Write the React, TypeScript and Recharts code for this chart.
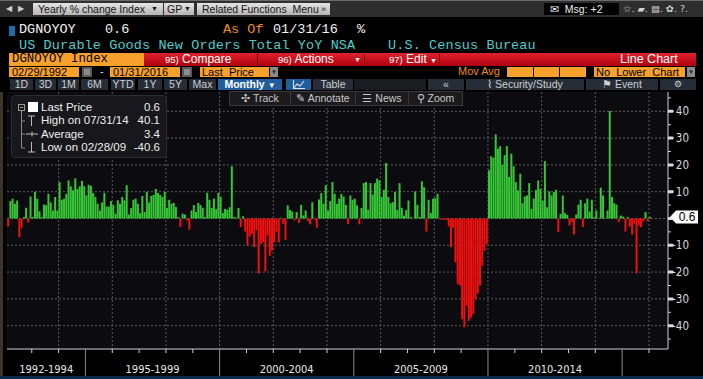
import React from "react";
import { BarChart, Bar, XAxis, YAxis, CartesianGrid, Cell } from "recharts";

// DGNOYOY monthly yoy %, Feb 1992 .. Jan 2016
const y1992 = [-3, 6.5, 7.4, 5.5, 6.7, -7, -3.5, 0.5, 4, -1.5, 8.2];
const y1993 = [0.5, 10, 7.4, 2.7, 0.5, 5.2, 5, 9.2, 6, 3, 8, 3];
const y1994 = [13.6, 7, 7.4, 9.2, 14.2, 12, 10.5, 15, 11, 12, 14, 12];
const y1995 = [8.6, 12.6, 12.2, 9.5, 8, 5.5, 3, 6, 9.6, 4.5, 4.5, 6.5];
const y1996 = [5, 1.8, 6.8, 5.5, 8, 6.8, 12.4, 1.5, 3.9, 7, 7.4, 5.5];
const y1997 = [2, 8.4, 2.4, 10, 6, 8.4, 8.8, 11, 9.5, 8.8, 8, 10];
const y1998 = [4, 7, 5.5, 5.8, 4.3, 0.5, -3.2, 1.8, 1.5, -0.8, -4.2, 3];
const y1999 = [5, 2.4, 5.8, 5, 4, 0.5, 9.6, 7, 4, 7.4, 3.5, 9.6];
const y2000 = [8, 2, 3.6, 3.2, 4.2, 19.5, 0.5, 0.3, 3.9, -3.2, 0.8, -4.9];
const y2001 = [-10, -6.7, -5.7, -10.7, -4.5, -20.5, -9.5, -8.9, -19.7, -6.4, -13.9, -12];
const y2002 = [-8.9, -5, -8.9, 0.2, -2, -8, 4.9, 3.2, 2.6, -0.7, 2.4, -1.7];
const y2003 = [5.1, 1.1, 3, -1, -2.2, 6.1, -0.5, -3.5, 7.1, 9.5, 5.5, 12.4];
const y2004 = [3, 6.5, 13.6, 9.2, 5.5, 7.4, 9.2, 8.2, 5.1, -2, 8.6, 7];
const y2005 = [7.4, 4.9, -2.2, 3.9, 13.2, 13.6, 3.2, 13.2, 8.9, 13.2, 14.9, 14.2];
const y2006 = [8, 10.7, 20.7, 8, 5.7, 6.1, 9.9, 3.2, 13.2, 4, 1.1, 3.2];
const y2007 = [6.7, 0.5, -0.2, 10.1, 5.1, 0.5, 13.9, 11.7, -4.9, 7, 2, 7.4];
const y2008 = [7.6, 9.2, -0.3, -0.5, -0.4, -0.6, -3, -10.7, -3.6, -16.4, -24.5, -25];
const y2009 = [-37.6, -40.6, -32.6, -38.2, -37, -35.7, -30.1, -28, -25, -17.6, -12, -9.5];
const y2010 = [18, 23.2, 22.7, 31.4, 26.1, 27, 20.1, 23.6, 27, 15.5, 24.2, 19.5];
const y2011 = [13.6, 10.5, 16.7, 5.7, 8.2, 8.6, 13.2, 3.6, 7.4, 10.7, 14.2, 11.1];
const y2012 = [6.7, 21.4, 4.2, 10.1, 8.6, 9.9, 10.7, -5.1, 1.7, 8.6, 2, 1.4];
const y2013 = [-2.6, -1.4, -6, 1.5, 5.2, 7, -3.2, 5.7, 7.4, 2.6, 7, 0.5];
const y2014 = [3, 0.2, 11.5, 8.6, 0.2, 3, 40.1, 8, 5.7, 5.2, -1.4, 1.1];
const y2015 = [0.7, -4.9, 0.5, -3, -6, -2, -20.5, -2.6, -3.2, -1, 2.4, -1];
const y2016 = [0.6];

const yearSeries = [
  y1992, y1993, y1994, y1995, y1996, y1997, y1998, y1999, y2000, y2001, y2002, y2003,
  y2004, y2005, y2006, y2007, y2008, y2009, y2010, y2011, y2012, y2013, y2014, y2015, y2016,
];

const periodLabels = ["1992-1994", "1995-1999", "2000-2004", "2005-2009", "2010-2014"];
const periodStarts = [1992, 1995, 2000, 2005, 2010, 2015];
const yMajorTicks = [40, 30, 20, 10, 0, -10, -20, -30, -40];
const yMinorTicks = [45, 35, 25, 15, 5, -5, -15, -25, -35, -45];

const legendRows = [
  { label: "Last Price", value: "0.6" },
  { label: "High on 07/31/14", value: "40.1" },
  { label: "Average", value: "3.4" },
  { label: "Low on 02/28/09", value: "-40.6" },
];
const rangeButtons = ["1D", "3D", "1M", "6M", "YTD", "1Y", "5Y", "Max"];

const GREEN = "#36c636";
const RED = "#f01010";
const ORANGE = "#f7a12c";
const MONO = '"Liberation Mono", "DejaVu Sans Mono", monospace';
const SANS = '"Liberation Sans", Arial, sans-serif';
const NARROW = '"DejaVu Sans Condensed", "Liberation Sans Narrow", "Liberation Sans", sans-serif';

// month index, 0 = Feb 1992
const monthIdx = (year: number, month: number) => (year - 1992) * 12 + (month - 2);

const data: { idx: number; value: number }[] = [];
yearSeries.forEach((arr) => arr.forEach((v) => data.push({ idx: data.length, value: v })));
const lastValue = data[data.length - 1].value;

const X_MIN = -0.58;
const X_MAX = 295;
const Y_MIN = -48.7;
const Y_MAX = 47.2;

const yearStarts: number[] = [];
for (let y = 1993; y <= 2016; y++) yearStarts.push(monthIdx(y, 1) - 0.5);
const gridIdx = yearStarts.filter((_, i) => (1993 + i) % 2 === 0);
const sepSet = new Set(periodStarts.slice(1).map((y) => monthIdx(y, 1) - 0.5));
const labelAt = new Map<number, string>();
periodLabels.forEach((lbl, k) => {
  const from = Math.max(X_MIN, monthIdx(periodStarts[k], 1) - 0.5);
  const to = monthIdx(periodStarts[k + 1], 1) - 0.5;
  labelAt.set((from + to) / 2, lbl);
});
const xTicks = [...yearStarts, ...Array.from(labelAt.keys())];
const yTicks = [...yMinorTicks, ...yMajorTicks, lastValue];

function XTick(props: any) {
  const { x, y, payload } = props;
  const v = payload.value;
  const lbl = labelAt.get(v);
  if (lbl)
    return (
      <text x={x} y={y + 24} textAnchor="middle" fill="#e8e8e8" fontSize={11} fontFamily={NARROW}>
        {lbl}
      </text>
    );
  const sep = sepSet.has(v);
  return <line x1={x} x2={x} y1={y} y2={y + (sep ? 27 : 4)} stroke={sep ? "#8c8c8c" : "#cfcfcf"} />;
}

function YTick(props: any) {
  const { x, y, payload } = props;
  const v = payload.value;
  if (v === lastValue && !yMajorTicks.includes(v)) {
    return (
      <g>
        <path d={`M${x + 2},${y} L${x + 8},${y - 6.5} L${x + 30},${y - 6.5} L${x + 30},${y + 6.5} L${x + 8},${y + 6.5} Z`} fill="#fff" />
        <text x={x + 19} y={y + 4} textAnchor="middle" fill="#000" fontSize={12} fontFamily={SANS}>
          {v}
        </text>
      </g>
    );
  }
  if (yMinorTicks.includes(v)) return <line x1={x} x2={x + 3} y1={y} y2={y} stroke="#cfcfcf" />;
  return (
    <g>
      <path d={`M${x},${y - 1.5} L${x + 5},${y - 1.5} L${x + 6},${y} L${x + 5},${y + 1.5} L${x},${y + 1.5} Z`} fill="#d8d8d8" />
      {v !== 0 && (
        <text x={x + 21} y={y + 4} textAnchor="end" fill="#dcdcdc" fontSize={11.5} fontFamily={NARROW}>
          {v}
        </text>
      )}
    </g>
  );
}

const Abs = ({ x, y, w, h, style, children }: any) => (
  <div style={{ position: "absolute", left: x, top: y, width: w, height: h, boxSizing: "border-box", whiteSpace: "nowrap", ...style }}>
    {children}
  </div>
);

const grayDrop = { background: "linear-gradient(#e4e4e4, #b4b4b4)", color: "#151515", fontSize: 10.5, lineHeight: "12px", paddingLeft: 5 };
const btn = { background: "#262d37", color: "#cdcdcd", fontSize: 10.5, lineHeight: "11px", textAlign: "center" as const };
const tool = { background: "#1b1b1e", border: "1px solid #3a3a3e", color: "#c8c8c8", fontSize: 10.5, lineHeight: "13px", textAlign: "center" as const };
const head = { fontFamily: MONO, fontSize: 13.5, color: "#f2f2f2", lineHeight: "14px" };

export default function App() {
  const rangeX = [10, 35, 58, 81, 111, 138, 164, 189];
  const rangeW = [23, 21, 21, 27, 24, 24, 23, 27];
  return (
    <div style={{ position: "relative", width: 703, height: 379, background: "#000", overflow: "hidden", fontFamily: SANS }}>
      <style>{"body{margin:0;background:#000}"}</style>
      <div style={{ position: "absolute", left: 0, top: 0 }}>
        <BarChart width={703} height={379} data={data} margin={{ top: 92, right: 0, bottom: 0, left: 7 }}>
          <CartesianGrid fill="#0b0b10" stroke="#5e5e5e" strokeDasharray="2 2" horizontalValues={yMajorTicks} verticalValues={gridIdx} />
          <XAxis
            type="number"
            dataKey="idx"
            domain={[X_MIN, X_MAX]}
            allowDataOverflow
            ticks={xTicks}
            interval={0}
            height={30}
            tickSize={0}
            tickMargin={0}
            tickLine={false}
            axisLine={{ stroke: "#d0d0d0" }}
            tick={(p: any) => <XTick {...p} />}
          />
          <YAxis
            orientation="right"
            type="number"
            domain={[Y_MIN, Y_MAX]}
            allowDataOverflow
            ticks={yTicks}
            interval={0}
            width={35}
            tickSize={0}
            tickMargin={0}
            tickLine={false}
            axisLine={{ stroke: "#d0d0d0" }}
            tick={(p: any) => <YTick {...p} />}
          />
          <Bar dataKey="value" barSize={2} isAnimationActive={false}>
            {data.map((d) => (
              <Cell key={d.idx} fill={d.value >= 0 ? GREEN : RED} />
            ))}
          </Bar>
        </BarChart>
      </div>

      {/* left frame + bottom strip */}
      <Abs x={0} y={92} w={3} h={285} style={{ background: "#3b3427" }} />
      <Abs x={0} y={376} w={703} h={3} style={{ background: "#0d2a4a" }} />

      {/* row 1 */}
      <Abs x={0} y={0} w={703} h={17} style={{ background: "#2e2e2e", borderTop: "1px solid #6a6a6a" }} />
      <Abs x={6} y={3} w={24} h={12} style={{ color: "#cfcfcf", fontSize: 8, lineHeight: "12px", letterSpacing: 6 }}>◀▶</Abs>
      <Abs x={33} y={3} w={130} h={12} style={grayDrop}>
        Yearly % change Index<span style={{ position: "absolute", right: 5, fontSize: 7 }}>▼</span>
      </Abs>
      <Abs x={164} y={3} w={30} h={12} style={{ ...grayDrop, paddingLeft: 3 }}>
        GP<span style={{ position: "absolute", right: 3, fontSize: 7 }}>▼</span>
      </Abs>
      <Abs x={197} y={3} w={133} h={12} style={grayDrop}>
        Related Functions&nbsp; Menu<span style={{ position: "absolute", right: 4, fontSize: 9 }}>»</span>
      </Abs>
      <Abs x={544} y={3} w={75} h={12} style={{ background: "#000", color: "#eee", fontSize: 10.5, lineHeight: "12px", paddingLeft: 6 }}>
        ✉&nbsp; Msg: +2
      </Abs>
      <Abs x={623} y={3} w={80} h={12} style={{ color: "#d0d0d0", fontSize: 9.5, lineHeight: "12px", fontFamily: '"DejaVu Sans", sans-serif' }}>
        ☆. ▰. ▤. ✿. ?.
      </Abs>

      {/* row 2-3 */}
      <Abs x={9} y={26} w={6} h={10} style={{ background: "#1d6ea6" }} />
      <Abs x={19} y={23} w={80} h={14} style={head}>DGNOYOY</Abs>
      <Abs x={105} y={23} w={40} h={14} style={head}>0.6</Abs>
      <Abs x={223} y={23} w={48} h={14} style={{ ...head, color: "#f08a1e" }}>As Of</Abs>
      <Abs x={273} y={23} w={76} h={14} style={head}>01/31/16</Abs>
      <Abs x={357} y={23} w={12} h={14} style={head}>%</Abs>
      <Abs x={19} y={38.5} w={530} h={14} style={{ fontFamily: MONO, fontSize: 13.5, color: "#48cfcf", lineHeight: "14px", whiteSpace: "pre", letterSpacing: 0.1 }}>
        {"US Durable Goods New Orders Total YoY NSA    U.S. Census Bureau"}
      </Abs>

      {/* row 4 */}
      <Abs x={9} y={52.5} w={135} h={13} style={{ background: ORANGE, color: "#000", fontFamily: MONO, fontSize: 12.3, lineHeight: "13px", paddingLeft: 3 }}>
        DGNOYOY Index
      </Abs>
      <Abs x={144} y={52.5} w={552} h={13} style={{ background: "linear-gradient(#e0222c, #b0000e)" }} />
      <Abs x={257} y={53.5} w={1} h={11} style={{ background: "#7a0008" }} />
      <Abs x={364} y={53.5} w={1} h={11} style={{ background: "#7a0008" }} />
      <Abs x={439} y={53.5} w={1} h={11} style={{ background: "#7a0008" }} />
      <Abs x={165} y={52.5} w={90} h={13} style={{ color: "#fff", fontSize: 12, lineHeight: "13px" }}>
        <span style={{ fontSize: 9.5 }}>95)</span> Compare
      </Abs>
      <Abs x={278} y={52.5} w={85} h={13} style={{ color: "#fff", fontSize: 12, lineHeight: "13px" }}>
        <span style={{ fontSize: 9.5 }}>96)</span> Actions<span style={{ position: "absolute", left: 76, fontSize: 7 }}>▼</span>
      </Abs>
      <Abs x={389} y={52.5} w={50} h={13} style={{ color: "#fff", fontSize: 12, lineHeight: "13px" }}>
        <span style={{ fontSize: 9.5 }}>97)</span> Edit <span style={{ fontSize: 7 }}>▼</span>
      </Abs>
      <Abs x={620} y={52.5} w={70} h={13} style={{ color: "#fff", fontSize: 12.5, lineHeight: "13px" }}>Line Chart</Abs>

      {/* row 5 */}
      <Abs x={9} y={67} w={70} h={10} style={{ background: ORANGE, color: "#000", fontSize: 11, lineHeight: "10px", paddingLeft: 3 }}>02/29/1992</Abs>
      <Abs x={82} y={67} w={10} h={10} style={{ background: "#8a8a8a", border: "2px solid #5a5a5a" }} />
      <Abs x={100} y={66} w={8} h={10} style={{ color: "#ddd", fontSize: 11, lineHeight: "10px" }}>-</Abs>
      <Abs x={110} y={67} w={70} h={10} style={{ background: ORANGE, color: "#000", fontSize: 11, lineHeight: "10px", paddingLeft: 3 }}>01/31/2016</Abs>
      <Abs x={182} y={67} w={10} h={10} style={{ background: "#8a8a8a", border: "2px solid #5a5a5a" }} />
      <Abs x={200} y={67} w={69} h={10} style={{ background: ORANGE, color: "#000", fontSize: 11, lineHeight: "10px", paddingLeft: 2 }}>Last&nbsp; Price</Abs>
      <Abs x={270} y={67} w={8} h={10} style={{ background: "#8a8a8a", color: "#222", fontSize: 6, lineHeight: "10px", textAlign: "center" }}>▼</Abs>
      <Abs x={458} y={66} w={48} h={11} style={{ color: "#f08a1e", fontSize: 11, lineHeight: "11px" }}>Mov Avg</Abs>
      <Abs x={507} y={67} w={26} h={10} style={{ background: ORANGE }} />
      <Abs x={534} y={67} w={25} h={10} style={{ background: ORANGE }} />
      <Abs x={560} y={67} w={26} h={10} style={{ background: ORANGE }} />
      <Abs x={594} y={67} w={91} h={10} style={{ background: ORANGE, color: "#000", fontSize: 11, lineHeight: "10px", paddingLeft: 2 }}>No&nbsp; Lower&nbsp; Chart</Abs>
      <Abs x={687} y={67} w={8} h={10} style={{ background: "#8a8a8a", color: "#222", fontSize: 6, lineHeight: "10px", textAlign: "center" }}>▼</Abs>

      {/* row 6 */}
      {rangeButtons.map((b, i) => (
        <Abs key={b} x={rangeX[i]} y={79} w={rangeW[i]} h={11} style={btn}>{b}</Abs>
      ))}
      <Abs x={218} y={79} w={64} h={11} style={{ ...btn, background: "#1f5d9e", color: "#fff", fontWeight: "bold" }}>
        Monthly <span style={{ fontSize: 8 }}>▼</span>
      </Abs>
      <Abs x={286} y={79} w={25} h={11} style={{ ...btn, background: "#1f5d9e" }}>
        <svg width={12} height={9} style={{ marginTop: 1 }}>
          <polyline points="1,8 4,4 7,6 11,1" fill="none" stroke="#e0e0e0" strokeWidth={1.2} />
          <line x1={0.5} y1={0} x2={0.5} y2={8.5} stroke="#e0e0e0" />
          <line x1={0} y1={8.5} x2={12} y2={8.5} stroke="#e0e0e0" />
        </svg>
      </Abs>
      <Abs x={313} y={79} w={40} h={11} style={btn}>Table</Abs>
      <Abs x={354} y={79} w={72} h={11} style={{ ...btn, background: "#1a1c20" }} />
      <Abs x={428} y={79} w={36} h={11} style={btn}>«</Abs>
      <Abs x={466} y={79} w={118} h={11} style={btn}>⌇ Security/Study</Abs>
      <Abs x={586} y={79} w={72} h={11} style={btn}>⚑ Event</Abs>
      <Abs x={660} y={79} w={36} h={11} style={{ ...btn, fontFamily: '"DejaVu Sans", sans-serif', fontSize: 9 }}>⚙</Abs>

      {/* chart toolbar */}
      <Abs x={229} y={91} w={62} h={15} style={tool}>✣ Track</Abs>
      <Abs x={290} y={91} w={66} h={15} style={tool}>✎ Annotate</Abs>
      <Abs x={355} y={91} w={54} h={15} style={tool}>☰ News</Abs>
      <Abs x={408} y={91} w={55} h={15} style={tool}>⚲ Zoom</Abs>

      {/* legend box */}
      <Abs x={11} y={95} w={156} h={63} style={{ background: "#17171c", border: "1px solid #2c2c33", borderRadius: 4 }}>
        <svg width={156} height={63} style={{ position: "absolute", left: 0, top: 0 }}>
          <rect x={6.5} y={8.5} width={6} height={6} fill="none" stroke="#9a9a9a" />
          <line x1={8} y1={11.5} x2={11} y2={11.5} stroke="#9a9a9a" />
          <line x1={9.5} y1={15} x2={9.5} y2={52} stroke="#8a8a8a" />
          {[25, 38, 52].map((yy) => (
            <line key={yy} x1={9.5} y1={yy} x2={13} y2={yy} stroke="#8a8a8a" />
          ))}
          <rect x={16} y={6} width={10} height={10} fill="#fff" />
          <line x1={16} y1={20} x2={23} y2={20} stroke="#bbb" />
          <line x1={19.5} y1={20} x2={19.5} y2={30} stroke="#bbb" />
          <line x1={14} y1={38} x2={26} y2={38} stroke="#bbb" />
          <line x1={20} y1={35.5} x2={20} y2={40.5} stroke="#bbb" />
          <line x1={19.5} y1={46} x2={19.5} y2={56} stroke="#bbb" />
          <line x1={16} y1={56} x2={23} y2={56} stroke="#bbb" />
        </svg>
        {legendRows.map((r, i) => (
          <div key={r.label} style={{ position: "absolute", left: 29, right: 6, top: 4 + i * 13.3, height: 14, fontSize: 11.5, lineHeight: "14px", color: "#eeeeee" }}>
            {r.label}
            <span style={{ position: "absolute", right: 0 }}>{r.value}</span>
          </div>
        ))}
      </Abs>
    </div>
  );
}
